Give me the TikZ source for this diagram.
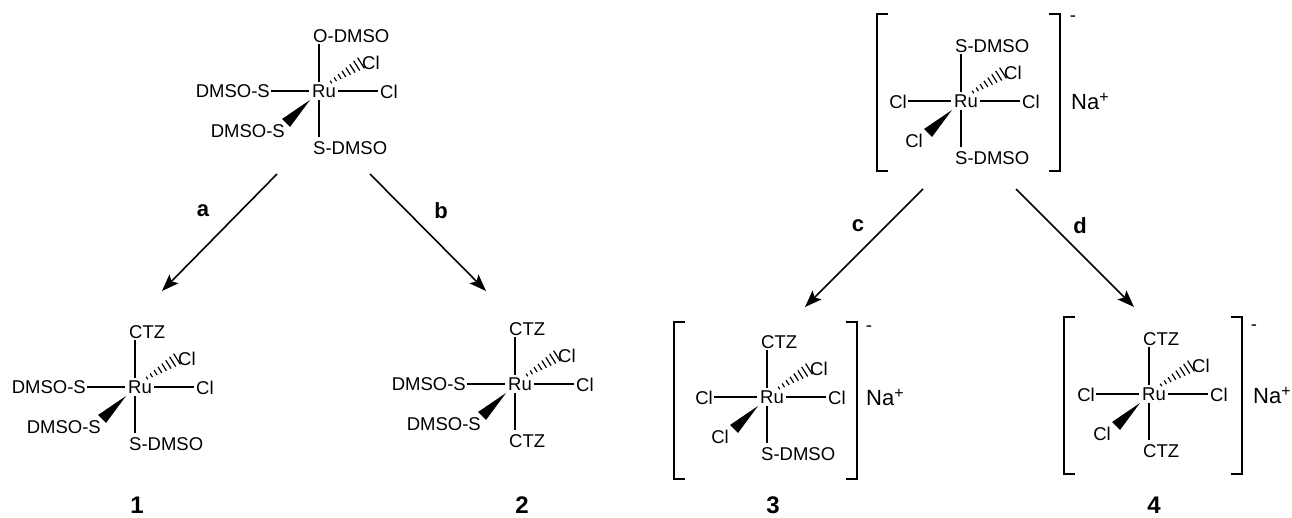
\documentclass[tikz,border=0pt]{standalone}
\usepackage{fontspec}
\setmainfont{Liberation Sans}
\usetikzlibrary{arrows.meta}
\tikzset{
  lbl/.style={inner sep=0pt,font=\fontsize{18.5}{18.5}\selectfont,text=black},
  bond/.style={line width=1.5pt,draw=black},
  brk/.style={line width=1.7pt,draw=black},
  rxn/.style={line width=1.6pt,-{Stealth[length=17pt,width=12.5pt,inset=3.5pt]}},
  letter/.style={inner sep=0pt,font=\fontsize{22}{22}\selectfont\bfseries},
  cmpd/.style={inner sep=0pt,anchor=base,text depth=0pt,font=\fontsize{24}{24}\selectfont\bfseries},
  ion/.style={inner sep=0pt,font=\fontsize{22}{22}\selectfont},
}
\newcommand{\naplus}{Na\raisebox{7pt}{\fontsize{16}{16}\selectfont +}}
% name, x, y, top, bottom, left, wedge label, left bond start, wedge label east offset
\newcommand{\rucomplex}[9]{
  \begin{scope}[shift={(#2,#3)}]
    \coordinate (#1) at (0,0);
    \node[lbl] (#1-ru) at (5,0.5) {Ru};
    \node[lbl,anchor=west] (#1-top) at (-6,-55) {#4};
    \node[lbl,anchor=west] (#1-bot) at (-6,57) {#5};
    \node[lbl,anchor=east] (#1-left) at (#8-1,0.5) {#6};
    \node[lbl,anchor=west] (#1-right) at (61,0.5) {Cl};
    \node[lbl,anchor=west] (#1-up) at (43,-28) {Cl};
    \node[lbl,anchor=east] (#1-low) at (#9,40) {#7};
    \draw[bond] (0,-47) coordinate (#1-t) -- (0,-9);
    \draw[bond] (0,9) -- (0,46) coordinate (#1-b);
    \draw[bond] (#8,0) coordinate (#1-l) -- (-10,0);
    \draw[bond] (19,0) -- (59,0) coordinate (#1-r);
    \fill (-9,9) -- (-37,28) -- (-29,36) -- cycle;
    \foreach \f/\w in {0/1.5,0.143/2.2,0.286/2.9,0.429/3.6,0.571/4.3,0.714/5,0.857/5.7,1/6.4}{
      \draw[line width=1.2pt] ({12+30*\f-0.53*\w},{-9-19*\f-0.84*\w}) -- ({12+30*\f+0.53*\w},{-9-19*\f+0.84*\w});
    }
  \end{scope}
}
% name, left, right, top, bottom
\newcommand{\brackets}[5]{
  \draw[brk] (#2+11,#4) coordinate (#1-a) -- (#2,#4) -- (#2,#5) -- (#2+11,#5);
  \draw[brk] (#3-11,#4) coordinate (#1-c) -- (#3,#4) -- (#3,#5) -- (#3-11,#5);
}
\begin{document}
\begin{tikzpicture}[x=1pt,y=-1pt]
\useasboundingbox (0,0) rectangle (1292,518);
\fill[white] (0,0) rectangle (1292,518);

\rucomplex{A}{319}{91}{O-DMSO}{S-DMSO}{DMSO-S}{DMSO-S}{-48}{-34}
\rucomplex{B}{961}{101}{S-DMSO}{S-DMSO}{Cl}{Cl}{-53}{-38}
\rucomplex{C}{135}{387}{CTZ}{S-DMSO}{DMSO-S}{DMSO-S}{-48}{-34}
\rucomplex{D}{515}{384}{CTZ}{CTZ}{DMSO-S}{DMSO-S}{-48}{-34}
\rucomplex{E}{767}{397}{CTZ}{S-DMSO}{Cl}{Cl}{-53}{-38}
\rucomplex{F}{1149}{394}{CTZ}{CTZ}{Cl}{Cl}{-53}{-38}

\brackets{BB}{877}{1060}{14}{171}
\brackets{EB}{674}{857}{322}{479}
\brackets{FB}{1064}{1242}{317}{474}

\node[lbl] (Bm) at (1073,19) {-};
\node[lbl] (Em) at (869,329) {-};
\node[lbl] (Fm) at (1254,328) {-};
\node[ion,anchor=west] (Bna) at (1071,101) {\naplus};
\node[ion,anchor=west] (Ena) at (866,397) {\naplus};
\node[ion,anchor=west] (Fna) at (1253,395) {\naplus};

\coordinate (a1) at (277,174); \coordinate (a2) at (162,291);
\coordinate (b1) at (370,174); \coordinate (b2) at (486,291);
\coordinate (c1) at (923,189); \coordinate (c2) at (805,307);
\coordinate (d1) at (1016,189); \coordinate (d2) at (1134,307);
\draw[rxn] (a1) -- (a2);
\draw[rxn] (b1) -- (b2);
\draw[rxn] (c1) -- (c2);
\draw[rxn] (d1) -- (d2);
\node[letter] (la) at (203,211) {a};
\node[letter] (lb) at (441,211) {b};
\node[letter] (lc) at (858,226) {c};
\node[letter] (ld) at (1080,226) {d};
\node[cmpd] (n1) at (137,513) {1};
\node[cmpd] (n2) at (522,513) {2};
\node[cmpd] (n3) at (773,513) {3};
\node[cmpd] (n4) at (1154,513) {4};
\end{tikzpicture}
\end{document}
